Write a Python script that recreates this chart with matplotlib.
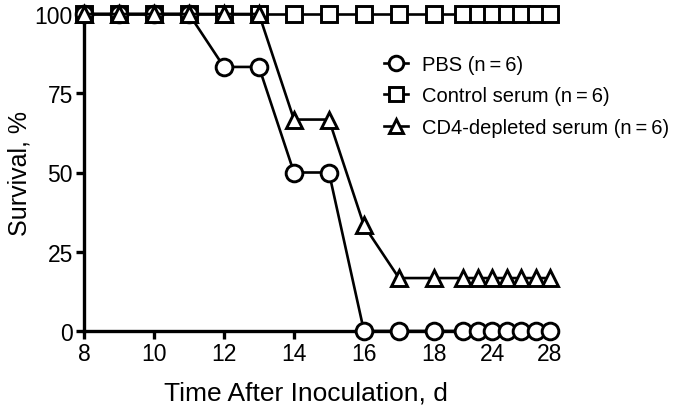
import numpy as np
import matplotlib
matplotlib.use("Agg")
import matplotlib.pyplot as plt
from matplotlib.lines import Line2D

plt.rcParams['font.family'] = ['Liberation Sans', 'DejaVu Sans']

days = [8, 9, 10, 11, 12, 13, 14, 15, 16, 17, 18, 22, 23, 24, 25, 26, 27, 28]
pbs = [100, 100, 100, 100, 83.3, 83.3, 50, 50, 0, 0, 0, 0, 0, 0, 0, 0, 0, 0]
control = [100] * 18
cd4 = [100, 100, 100, 100, 100, 100, 66.7, 66.7, 33.3, 16.7, 16.7,
       16.7, 16.7, 16.7, 16.7, 16.7, 16.7, 16.7]
labels = ["PBS (n\u2009=\u20096)", "Control serum (n\u2009=\u20096)",
          "CD4-depleted serum (n\u2009=\u20096)"]
xticks = [8, 10, 12, 14, 16, 18, 24, 28]
yticks = [0, 25, 50, 75, 100]

K = 14.5 / 35.0
EPS = 1e-3


def fwd(x):
    x = np.asarray(x, float)
    return np.where(x <= 18, x,
                    np.where(x <= 20, 18 + (x - 18) * EPS,
                             18 + 2 * EPS + (x - 20) * K))


def inv(y):
    y = np.asarray(y, float)
    return np.where(y <= 18, y,
                    np.where(y <= 18 + 2 * EPS, 18 + (y - 18) / EPS,
                             20 + (y - 18 - 2 * EPS) / K))


fig = plt.figure(figsize=(6.9, 4.1), dpi=100)
ax = fig.add_axes([84 / 690, 1 - 332 / 410, (550 - 84) / 690, (332 - 15) / 410])
ax.set_xscale('function', functions=(fwd, inv))

lw = 1.9
ms = 12
mew = 2.1
common = dict(color='black', lw=lw, markersize=ms, markeredgewidth=mew,
              markerfacecolor='white', markeredgecolor='black', clip_on=False)
ax.plot(days, control, marker='s', zorder=3, **common)
ax.plot(days, pbs, marker='o', zorder=4, **common)
ax.plot(days, cd4, marker='^', zorder=5, **common)

ax.set_xlim(8, 28)
ax.set_ylim(0, 100)
ax.set_xticks(xticks)
ax.set_xticklabels([str(t) for t in xticks])
ax.set_yticks(yticks)
ax.set_yticklabels([str(t) for t in yticks])
ax.xaxis.set_minor_locator(matplotlib.ticker.NullLocator())

for s in ['top', 'right']:
    ax.spines[s].set_visible(False)
for s in ['left', 'bottom']:
    ax.spines[s].set_linewidth(2.4)
ax.tick_params(axis='both', which='major', direction='out', length=6, width=2.4,
               labelsize=16.5, pad=2, colors='black')

ax.set_xlabel("Time After Inoculation, d", fontsize=19, labelpad=10)
ax.xaxis.set_label_coords((306 - 84) / 466, -0.155)
ax.set_ylabel("Survival, %", fontsize=18, labelpad=2)

handles = [
    Line2D([], [], color='black', lw=lw, marker='o', markersize=10.5,
           markeredgewidth=mew, markerfacecolor='white'),
    Line2D([], [], color='black', lw=lw, marker='s', markersize=10.5,
           markeredgewidth=mew, markerfacecolor='white'),
    Line2D([], [], color='black', lw=lw, marker='^', markersize=10.5,
           markeredgewidth=mew, markerfacecolor='white'),
]
fig.legend(handles, labels, loc='upper left', bbox_to_anchor=(384 / 690, 1 - 56 / 410),
           frameon=False, fontsize=14.5, handlelength=1.2, handletextpad=0.7,
           labelspacing=0.62, borderpad=0, borderaxespad=0)

fig.savefig("out.png", dpi=100)
